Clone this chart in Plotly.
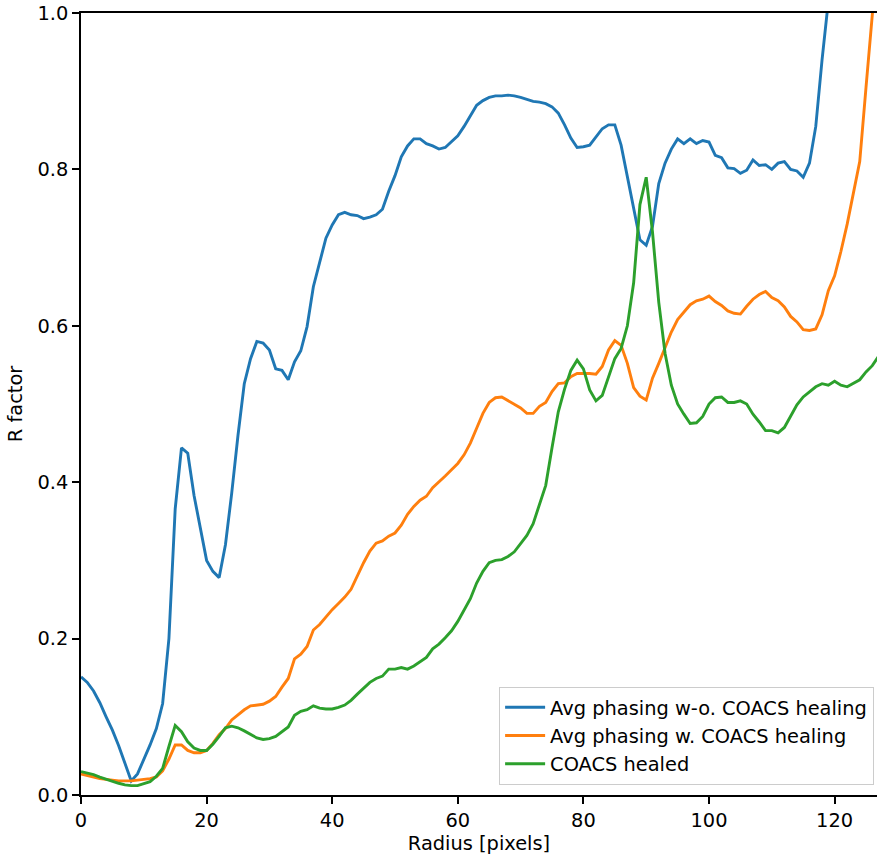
import plotly.graph_objects as go

radius = list(range(128))

avg_without = [
    0.151, 0.144, 0.133, 0.118, 0.100, 0.083, 0.063, 0.040, 0.018, 0.027,
    0.045, 0.064, 0.085, 0.117, 0.200, 0.366, 0.444, 0.437, 0.383, 0.340,
    0.300, 0.286, 0.278, 0.320, 0.386, 0.460, 0.526, 0.558, 0.580, 0.578,
    0.569, 0.545, 0.543, 0.531, 0.554, 0.568, 0.599, 0.650, 0.680, 0.712,
    0.729, 0.742, 0.745, 0.742, 0.741, 0.737, 0.739, 0.742, 0.749, 0.772,
    0.792, 0.816, 0.830, 0.839, 0.839, 0.833, 0.830, 0.826, 0.828, 0.835,
    0.843, 0.855, 0.869, 0.882, 0.888, 0.892, 0.894, 0.894, 0.895, 0.894,
    0.892, 0.889, 0.887, 0.886, 0.884, 0.880, 0.872, 0.857, 0.840, 0.828,
    0.829, 0.831, 0.841, 0.852, 0.857, 0.857, 0.831, 0.792, 0.752, 0.710,
    0.703, 0.727, 0.782, 0.808, 0.826, 0.839, 0.833, 0.839, 0.833, 0.837,
    0.835, 0.818, 0.815, 0.802, 0.801, 0.795, 0.799, 0.812, 0.805, 0.806,
    0.800, 0.808, 0.810, 0.800, 0.798, 0.790, 0.808, 0.855, 0.940, 1.020,
    1.090, 1.140, 1.190, 1.220, 1.270, 1.330, 1.380, 1.410,
]

avg_with = [
    0.027, 0.025, 0.023, 0.021, 0.020, 0.019, 0.018, 0.018, 0.018, 0.019,
    0.020, 0.021, 0.023, 0.031, 0.046, 0.064, 0.064, 0.057, 0.054, 0.054,
    0.057, 0.066, 0.077, 0.085, 0.096, 0.103, 0.109, 0.114, 0.115, 0.116,
    0.120, 0.126, 0.138, 0.149, 0.174, 0.180, 0.190, 0.211, 0.218, 0.228,
    0.237, 0.245, 0.253, 0.263, 0.281, 0.297, 0.312, 0.322, 0.325, 0.331,
    0.335, 0.345, 0.359, 0.369, 0.377, 0.382, 0.393, 0.400, 0.408, 0.416,
    0.424, 0.435, 0.450, 0.469, 0.488, 0.502, 0.508, 0.509, 0.504, 0.500,
    0.495, 0.488, 0.488, 0.497, 0.502, 0.516, 0.526, 0.527, 0.535, 0.539,
    0.539, 0.539, 0.538, 0.548, 0.569, 0.581, 0.575, 0.552, 0.521, 0.510,
    0.505, 0.533, 0.552, 0.571, 0.592, 0.608, 0.618, 0.627, 0.632, 0.634,
    0.638, 0.631, 0.626, 0.619, 0.616, 0.615, 0.625, 0.634, 0.640, 0.644,
    0.636, 0.632, 0.624, 0.612, 0.605, 0.595, 0.594, 0.596, 0.614, 0.645,
    0.664, 0.695, 0.730, 0.770, 0.810, 0.905, 1.000, 1.090,
]

coacs_healed = [
    0.030, 0.028, 0.026, 0.023, 0.020, 0.017, 0.015, 0.013, 0.012, 0.012,
    0.014, 0.017, 0.024, 0.034, 0.062, 0.089, 0.081, 0.068, 0.060, 0.057,
    0.057, 0.065, 0.075, 0.086, 0.088, 0.086, 0.082, 0.078, 0.073, 0.071,
    0.072, 0.075, 0.081, 0.087, 0.102, 0.107, 0.109, 0.114, 0.111, 0.110,
    0.110, 0.112, 0.115, 0.121, 0.129, 0.136, 0.144, 0.149, 0.152, 0.161,
    0.161, 0.163, 0.161, 0.165, 0.170, 0.176, 0.187, 0.193, 0.201, 0.210,
    0.222, 0.237, 0.251, 0.271, 0.286, 0.297, 0.300, 0.301, 0.305, 0.311,
    0.322, 0.332, 0.347, 0.373, 0.396, 0.444, 0.490, 0.519, 0.543, 0.556,
    0.545, 0.518, 0.504, 0.511, 0.536, 0.558, 0.571, 0.600, 0.655, 0.755,
    0.790, 0.720, 0.630, 0.565, 0.524, 0.500, 0.487, 0.475, 0.476, 0.484,
    0.500, 0.508, 0.509, 0.502, 0.502, 0.504, 0.500, 0.487, 0.477, 0.466,
    0.466, 0.463, 0.470, 0.484, 0.499, 0.509, 0.516, 0.522, 0.526, 0.524,
    0.529, 0.524, 0.522, 0.527, 0.531, 0.541, 0.549, 0.561,
]

series_names = [
    "Avg phasing w-o. COACS healing",
    "Avg phasing w. COACS healing",
    "COACS healed",
]
series_colors = ["#1f77b4", "#ff7f0e", "#2ca02c"]
x_ticks = [0, 20, 40, 60, 80, 100, 120]
y_ticks = [0.0, 0.2, 0.4, 0.6, 0.8, 1.0]

FONT = "DejaVu Sans"
FS = 19.4

fig = go.Figure()
for name, ys, col in zip(series_names, [avg_without, avg_with, coacs_healed], series_colors):
    fig.add_trace(go.Scatter(
        x=radius, y=ys, mode="lines", name=name,
        line=dict(color=col, width=2.9),
    ))

axis_common = dict(
    showgrid=False, zeroline=False,
    showline=True, linecolor="black", linewidth=1.5,
    ticks="outside", ticklen=7, tickwidth=1.5, tickcolor="black",
    tickfont=dict(family=FONT, size=FS, color="black"),
)

fig.update_layout(
    width=877, height=855,
    margin=dict(l=81, r=0, t=13, b=60),
    paper_bgcolor="white", plot_bgcolor="white",
    font=dict(family=FONT, size=FS, color="black"),
    xaxis=dict(
        range=[0, 126.75], tickvals=x_ticks, mirror=True,
        title=dict(text="Radius [pixels]", font=dict(family=FONT, size=FS), standoff=6),
        **axis_common,
    ),
    yaxis=dict(
        range=[0, 1.0], tickvals=y_ticks, tickformat=".1f", mirror=False,
        title=dict(text="R factor", font=dict(family=FONT, size=FS), standoff=10),
        **axis_common,
    ),
    legend=dict(
        x=0.996, y=0.013, xanchor="right", yanchor="bottom",
        bgcolor="rgba(255,255,255,0.8)", bordercolor="#cccccc", borderwidth=1.3,
        font=dict(family=FONT, size=FS, color="black"),
        itemwidth=40,
    ),
    showlegend=True,
)

fig.write_html("out.html")
